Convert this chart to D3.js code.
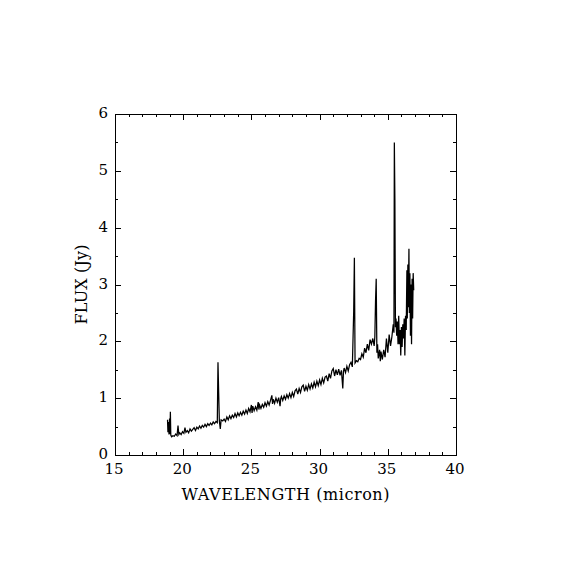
<!DOCTYPE html>
<html>
<head>
<meta charset="utf-8">
<script src="https://cdn.jsdelivr.net/npm/d3@7"></script>
<style>
  body { margin: 0; background: #fff; }
  text { font-family: "DejaVu Serif", "Liberation Serif", serif; fill: #000; }
</style>
</head>
<body>
<div id="my_dataviz"></div>
<script>
// spectrum: wavelength (micron) and flux (Jy)
const wavelength = [
  18.85, 18.88, 18.92, 18.96, 19.00, 19.03, 19.06, 19.09, 19.15, 19.25,
  19.35, 19.45, 19.55, 19.62, 19.68, 19.75, 19.85, 19.95, 20.05, 20.13,
  20.2, 20.3, 20.4, 20.5, 20.6, 20.7, 20.8, 20.9, 21.0, 21.1,
  21.2, 21.3, 21.4, 21.5, 21.6, 21.7, 21.8, 21.9, 22.0, 22.1,
  22.2, 22.3, 22.4, 22.5, 22.55, 22.6, 22.65, 22.72, 22.78, 22.9,
  23.0, 23.1, 23.2, 23.3, 23.4, 23.5, 23.6, 23.7, 23.8, 23.9,
  24.0, 24.1, 24.2, 24.3, 24.4, 24.5, 24.6, 24.7, 24.8, 24.9,
  25.0, 25.05, 25.1, 25.2, 25.3, 25.4, 25.5, 25.55, 25.6, 25.7,
  25.8, 25.9, 26.0, 26.1, 26.2, 26.3, 26.4, 26.5, 26.55, 26.6,
  26.7, 26.8, 26.9, 27.0, 27.1, 27.15, 27.2, 27.3, 27.4, 27.5,
  27.6, 27.7, 27.8, 27.9, 28.0, 28.1, 28.2, 28.3, 28.4, 28.5,
  28.6, 28.7, 28.8, 28.9, 29.0, 29.1, 29.2, 29.3, 29.4, 29.5,
  29.6, 29.7, 29.8, 29.9, 30.0, 30.1, 30.2, 30.3, 30.4, 30.5,
  30.6, 30.7, 30.8, 30.9, 31.0, 31.1, 31.2, 31.3, 31.4, 31.5,
  31.6, 31.7, 31.75, 31.8, 31.9, 32.0, 32.1, 32.2, 32.3, 32.4,
  32.5, 32.55, 32.6, 32.7, 32.8, 32.9, 33.0, 33.1, 33.2, 33.3,
  33.4, 33.5, 33.6, 33.7, 33.8, 33.9, 34.0, 34.05, 34.1, 34.15,
  34.2, 34.25, 34.3, 34.4, 34.45, 34.5, 34.6, 34.7, 34.8, 34.9,
  35.0, 35.1, 35.2, 35.3, 35.4, 35.45, 35.48, 35.52, 35.56, 35.6,
  35.65, 35.7, 35.75, 35.8, 35.85, 35.9, 35.95, 36.0, 36.05, 36.1,
  36.15, 36.2, 36.25, 36.3, 36.35, 36.4, 36.43, 36.47, 36.5, 36.55,
  36.58, 36.62, 36.66, 36.7, 36.74, 36.78, 36.82, 36.86, 36.9
];
const flux = [
  0.62, 0.40, 0.58, 0.36, 0.64, 0.37, 0.76, 0.35, 0.32, 0.34,
  0.33, 0.37, 0.34, 0.52, 0.36, 0.39, 0.36, 0.41, 0.38, 0.48,
  0.40, 0.43, 0.39, 0.46, 0.42, 0.45, 0.48, 0.43, 0.49, 0.46,
  0.51, 0.47, 0.52, 0.49, 0.54, 0.50, 0.55, 0.52, 0.56, 0.53,
  0.58, 0.55, 0.59, 0.57, 1.63, 1.10, 0.60, 0.46, 0.62, 0.60,
  0.63, 0.59, 0.67, 0.62, 0.69, 0.64, 0.70, 0.66, 0.73, 0.67,
  0.74, 0.69, 0.75, 0.70, 0.77, 0.72, 0.79, 0.73, 0.82, 0.76,
  0.88, 0.74, 0.86, 0.78, 0.85, 0.79, 0.93, 0.80, 0.88, 0.82,
  0.89, 0.84, 0.92, 0.86, 0.94, 0.88, 0.96, 1.05, 0.90, 0.98,
  0.91, 1.00, 0.93, 1.01, 0.86, 0.99, 1.03, 0.96, 1.04, 0.98,
  1.06, 1.00, 1.08, 1.01, 1.10, 1.03, 1.13, 1.16, 1.07, 1.17,
  1.10, 1.20, 1.23, 1.12, 1.21, 1.14, 1.24, 1.16, 1.25, 1.18,
  1.28, 1.20, 1.30, 1.22, 1.32, 1.24, 1.35, 1.27, 1.37, 1.39,
  1.30, 1.43, 1.35, 1.48, 1.52, 1.39, 1.50, 1.41, 1.51, 1.40,
  1.49, 1.17, 1.47, 1.53, 1.45, 1.56, 1.48, 1.59, 1.63, 1.55,
  2.53, 3.47, 1.62, 1.66, 1.64, 1.70, 1.68, 1.78, 1.72, 1.88,
  1.80, 1.95, 1.84, 2.03, 1.95, 2.05, 1.92, 2.08, 2.70, 3.10,
  1.80, 1.95, 1.70, 1.85, 1.65, 1.82, 1.68, 1.85, 1.72, 2.05,
  1.80, 2.12, 1.92, 2.08, 2.30, 2.15, 5.50, 4.47, 2.25, 2.40,
  2.10, 2.35, 1.95, 2.45, 1.95, 2.20, 1.75, 2.25, 1.90, 2.30,
  2.05, 2.40, 1.75, 2.45, 2.20, 3.25, 2.40, 3.35, 2.60, 3.63,
  2.50, 3.20, 2.10, 3.00, 1.95, 3.10, 2.40, 3.20, 2.90
];
const xTicks = [15, 20, 25, 30, 35, 40];
const yTicks = [0, 1, 2, 3, 4, 5, 6];

const W = 570, H = 570;
const mLeft = 115, mRight = 456, mTop = 114, mBottom = 455;

const svg = d3.select("#my_dataviz")
    .append("svg")
    .attr("width", W)
    .attr("height", H);

svg.append("rect").attr("width", W).attr("height", H).attr("fill", "#fff");

const x = d3.scaleLinear().domain([15, 40]).range([mLeft, mRight]);
const y = d3.scaleLinear().domain([0, 6]).range([mBottom, mTop]);

// minor ticks every 1 micron / 0.5 Jy
const xMinor = d3.range(15, 40.01, 1);
const yMinor = d3.range(0, 6.01, 0.5);

const ticks = svg.append("g").attr("stroke", "#000").attr("stroke-width", 1);

xMinor.forEach(v => {
    const len = xTicks.includes(v) ? 6 : 3;
    const px = Math.round(x(v)) + 0.5;
    ticks.append("line").attr("x1", px).attr("x2", px).attr("y1", mBottom).attr("y2", mBottom - len);
    ticks.append("line").attr("x1", px).attr("x2", px).attr("y1", mTop).attr("y2", mTop + len);
});
yMinor.forEach(v => {
    const len = yTicks.includes(v) ? 6 : 3;
    const py = Math.round(y(v)) + 0.5;
    ticks.append("line").attr("y1", py).attr("y2", py).attr("x1", mLeft).attr("x2", mLeft + len);
    ticks.append("line").attr("y1", py).attr("y2", py).attr("x1", mRight).attr("x2", mRight - len);
});

// the spectrum
const pts = wavelength.map((w, i) => [w, flux[i]]);
svg.append("path")
    .datum(pts)
    .attr("fill", "none")
    .attr("stroke", "#000")
    .attr("stroke-width", 1.25)
    .attr("d", d3.line().x(d => x(d[0])).y(d => y(d[1])));

// frame
svg.append("rect")
    .attr("x", mLeft + 0.5).attr("y", mTop + 0.5)
    .attr("width", mRight - mLeft).attr("height", mBottom - mTop)
    .attr("fill", "none").attr("stroke", "#000").attr("stroke-width", 1);

// tick labels
svg.append("g").selectAll("text")
    .data(xTicks)
    .join("text")
    .attr("x", d => x(d) - 1)
    .attr("y", mBottom + 19)
    .attr("text-anchor", "middle")
    .style("font-size", "15px")
    .text(d => d);

svg.append("g").selectAll("text")
    .data(yTicks)
    .join("text")
    .attr("x", mLeft - 7)
    .attr("y", d => y(d) + 4)
    .attr("text-anchor", "end")
    .style("font-size", "15px")
    .text(d => d);

// axis titles
svg.append("text")
    .attr("x", (mLeft + mRight) / 2)
    .attr("y", 500)
    .attr("text-anchor", "middle")
    .attr("textLength", 208)
    .attr("lengthAdjust", "spacing")
    .style("font-size", "16px")
    .text("WAVELENGTH (micron)");

svg.append("text")
    .attr("transform", `translate(87,${(mTop + mBottom) / 2}) rotate(-90)`)
    .attr("text-anchor", "middle")
    .attr("textLength", 80)
    .attr("lengthAdjust", "spacing")
    .style("font-size", "16px")
    .text("FLUX (Jy)");
</script>
</body>
</html>
